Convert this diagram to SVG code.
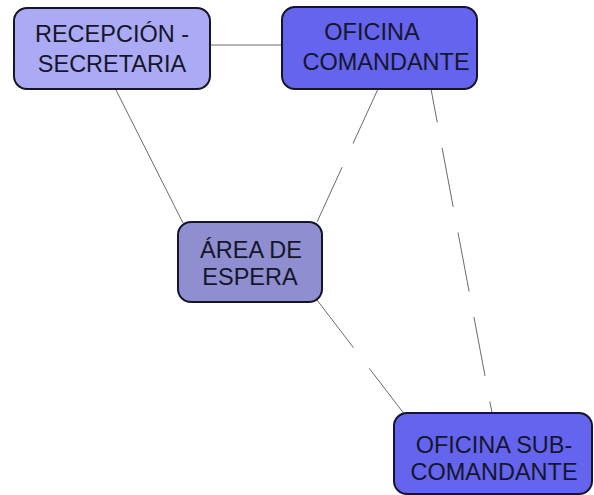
<svg xmlns="http://www.w3.org/2000/svg" width="594" height="495" viewBox="0 0 594 495">
<style>
.box{stroke:#15152a;stroke-width:2}
.t{font-family:"Liberation Sans",Arial,sans-serif;font-size:23.5px;fill:#16162a;text-anchor:middle}
.c{stroke:#6a6a6a;stroke-width:1;fill:none}
.d{stroke-dasharray:60 26}
</style>
<rect width="594" height="495" fill="#ffffff"/>
<g id="connectors">
<line class="c" x1="210" y1="45" x2="282" y2="45"/>
<line class="c" x1="116" y1="90" x2="183" y2="223"/>
<line class="c d" x1="378" y1="89" x2="317" y2="222"/>
<line class="c d" x1="431" y1="89" x2="492" y2="413" style="stroke-dashoffset:26"/>
<line class="c d" x1="317" y1="300" x2="405" y2="415"/>
</g>
<g id="recepcion">
<rect class="box" x="14" y="8" width="196" height="81" rx="13" fill="#aaaaf5"/>
<text class="t" x="112" y="42">RECEPCIÓN -</text>
<text class="t" x="112" y="72">SECRETARIA</text>
</g>
<g id="oficina-comandante">
<rect class="box" x="282" y="7" width="195" height="82" rx="13" fill="#6464ee"/>
<text class="t" x="372" y="40">OFICINA</text>
<text class="t" x="386" y="70">COMANDANTE</text>
</g>
<g id="area-espera">
<rect class="box" x="178" y="222" width="144" height="80" rx="13" fill="#8e8ed0"/>
<text class="t" x="251" y="258">ÁREA DE</text>
<text class="t" x="250" y="285">ESPERA</text>
</g>
<g id="oficina-subcomandante">
<rect class="box" x="394" y="413" width="198" height="81" rx="13" fill="#6464ee"/>
<text class="t" x="494" y="453">OFICINA SUB-</text>
<text class="t" x="494" y="480">COMANDANTE</text>
</g>
</svg>
